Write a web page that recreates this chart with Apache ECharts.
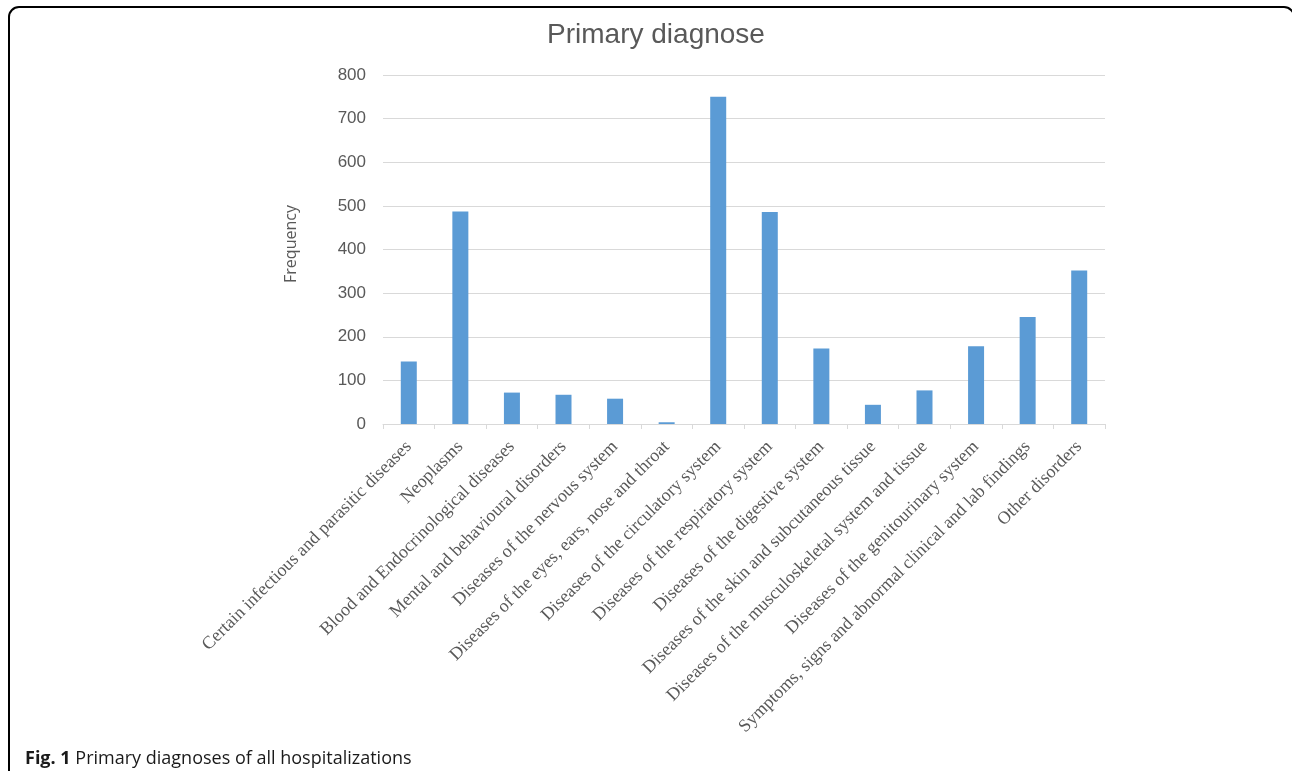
<!DOCTYPE html>
<html>
<head>
<meta charset="utf-8">
<script src="https://cdn.jsdelivr.net/npm/echarts@6/dist/echarts.min.js"></script>
<style>
html,body{margin:0;padding:0;background:#fff;}
#chart{width:1292px;height:771px;}
</style>
</head>
<body>
<div id="chart"></div>
<script>
const categories = [
  "Certain infectious and parasitic diseases",
  "Neoplasms",
  "Blood and Endocrinological diseases",
  "Mental and behavioural disorders",
  "Diseases of the nervous system",
  "Diseases of the eyes, ears, nose and throat",
  "Diseases of the circulatory system",
  "Diseases of the respiratory system",
  "Diseases of the digestive system",
  "Diseases of the skin and subcutaneous tissue",
  "Diseases of the musculoskeletal system and tissue",
  "Diseases of the genitourinary system",
  "Symptoms, signs and abnormal clinical and lab findings",
  "Other disorders"
];
const frequency = [143, 487, 72, 67, 58, 4, 750, 486, 173, 44, 77, 178, 245, 352];
const titleText = "Primary diagnose";
const yAxisName = "Frequency";
const captionBold = "Fig. 1";
const captionText = " Primary diagnoses of all hospitalizations";

const chart = echarts.init(document.getElementById('chart'), null, {renderer: 'canvas'});
chart.setOption({
  animation: false,
  backgroundColor: '#ffffff',
  grid: {left: 383, right: 187, top: 75, bottom: 347, containLabel: false},
  xAxis: {
    type: 'category',
    data: categories,
    axisLine: {lineStyle: {color: '#d9d9d9', width: 1}},
    axisTick: {show: true, alignWithLabel: false, length: 5, lineStyle: {color: '#d9d9d9'}},
    axisLabel: {
      interval: 0, rotate: 45, margin: 20,
      fontFamily: 'Liberation Serif', fontSize: 18, color: '#595959'
    }
  },
  yAxis: {
    type: 'value',
    min: 0, max: 800, interval: 100,
    axisLine: {show: false},
    axisTick: {show: false},
    axisLabel: {margin: 17, fontFamily: 'Liberation Sans', fontSize: 17, color: '#595959'},
    splitLine: {lineStyle: {color: '#d9d9d9', width: 1}}
  },
  series: [{
    type: 'bar',
    data: frequency,
    barWidth: 16,
    itemStyle: {color: '#5b9bd5'}
  }],
  graphic: [
    {
      type: 'rect', silent: true,
      shape: {x: 9, y: 7, width: 1285, height: 820, r: [10, 10, 0, 0]},
      style: {fill: 'none', stroke: '#000', lineWidth: 2}
    },
    {
      type: 'text', silent: true, x: 656, y: 35,
      style: {
        text: titleText, align: 'center', verticalAlign: 'middle',
        fontFamily: 'Liberation Sans', fontSize: 28, fill: '#595959'
      }
    },
    {
      type: 'text', silent: true, x: 291, y: 244, rotation: Math.PI / 2,
      style: {
        text: yAxisName, align: 'center', verticalAlign: 'middle',
        fontFamily: 'Open Sans', fontSize: 16, fill: '#595959'
      }
    },
    {
      type: 'text', left: 25, top: 750, silent: true,
      style: {
        text: '{b|' + captionBold + '}{n|' + captionText + '}',
        rich: {
          b: {fontFamily: 'Open Sans', fontSize: 18, fontWeight: 'bold', fill: '#1a1a1a'},
          n: {fontFamily: 'Open Sans', fontSize: 18, fill: '#1a1a1a'}
        }
      }
    }
  ]
});
</script>
</body>
</html>
